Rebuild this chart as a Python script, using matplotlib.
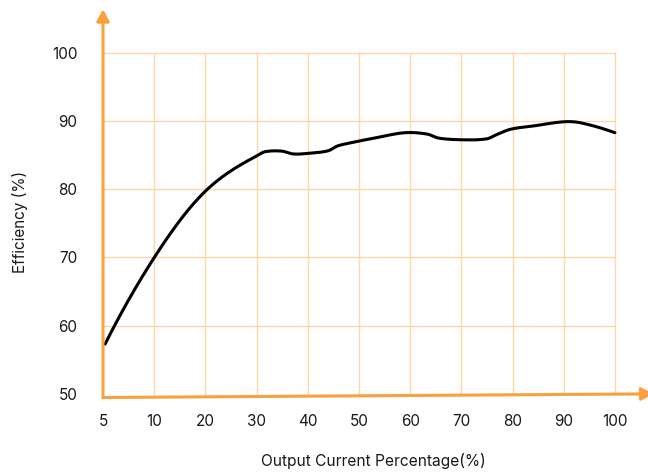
import numpy as np
import matplotlib
matplotlib.use('Agg')
import matplotlib.pyplot as plt

# ---- data ----
x_ticks = [5, 10, 20, 30, 40, 50, 60, 70, 80, 90, 100]
y_ticks = [50, 60, 70, 80, 90, 100]
curve_pct = [5.2, 10.1, 20.1, 25.5, 30, 31.6, 34.9, 37.2, 40.5, 44, 45.8,
             48.3, 53.6, 59, 63.3, 65.6, 70.8, 75, 76.7, 79.6, 84.2, 90, 93.3, 100]
curve_eff = [57.3, 70.1, 79.8, 82.95, 84.88, 85.5, 85.6, 85.18, 85.3,
             85.65, 86.35, 86.8, 87.6, 88.3, 88.1, 87.5, 87.25, 87.4, 87.95, 88.8,
             89.3, 89.9, 89.75, 88.3]
x_label = "Output Current Percentage(%)"
y_label = "Efficiency (%)"

plt.rcParams['font.family'] = ['Inter', 'DejaVu Sans']

W, H = 648, 473
fig = plt.figure(figsize=(W / 100, H / 100), dpi=100)
ax = fig.add_axes([103 / W, 1 - 397.5 / H, (640 - 103) / W, (397.5 - 10) / H])
ax.set_xlim(0, 10.49)
ax.set_ylim(49.47, 106.29)

positions = np.arange(len(x_ticks))
cx = np.interp(curve_pct, x_ticks, positions)
cy = np.array(curve_eff, dtype=float)


def spline_tangents(x, y, start_slope):
    k = len(x)
    h = np.diff(x)
    A = np.zeros((k, k)); b = np.zeros(k)
    A[0, 0] = 2 * h[0]; A[0, 1] = h[0]
    b[0] = 6 * ((y[1] - y[0]) / h[0] - start_slope)
    A[-1, -1] = 1
    for i in range(1, k - 1):
        A[i, i - 1] = h[i - 1]
        A[i, i] = 2 * (h[i - 1] + h[i])
        A[i, i + 1] = h[i]
        b[i] = 6 * ((y[i + 1] - y[i]) / h[i] - (y[i] - y[i - 1]) / h[i - 1])
    M = np.linalg.solve(A, b)
    t = np.zeros(k)
    for i in range(k - 1):
        t[i] = (y[i + 1] - y[i]) / h[i] - h[i] * (2 * M[i] + M[i + 1]) / 6
    t[-1] = (y[-1] - y[-2]) / h[-1] + h[-1] * (M[-2] + 2 * M[-1]) / 6
    return t


# cubic hermite smoothing: C2 spline tangents on the rising part, local tangents elsewhere
n = len(cx)
m = np.zeros(n)
for i in range(1, n - 1):
    m[i] = (cy[i + 1] - cy[i - 1]) / (cx[i + 1] - cx[i - 1])
m[-1] = 2 * (cy[-1] - cy[-2]) / (cx[-1] - cx[-2]) - m[-2]
k = 6
first_slope = 2 * (cy[1] - cy[0]) / (cx[1] - cx[0]) - (cy[2] - cy[0]) / (cx[2] - cx[0])
nt = spline_tangents(cx[:k], cy[:k], first_slope)
m[:k - 1] = nt[:k - 1]

sx, sy = [], []
for i in range(n - 1):
    h = cx[i + 1] - cx[i]
    t = np.linspace(0, 1, 40, endpoint=False)
    h00 = 2 * t**3 - 3 * t**2 + 1
    h10 = t**3 - 2 * t**2 + t
    h01 = -2 * t**3 + 3 * t**2
    h11 = t**3 - t**2
    sx.extend(cx[i] + t * h)
    sy.extend(h00 * cy[i] + h10 * h * m[i] + h01 * cy[i + 1] + h11 * h * m[i + 1])
sx.append(cx[-1]); sy.append(cy[-1])

grid_c = '#FDD7A9'
for yv in y_ticks[1:]:
    ax.plot([positions[0], positions[-1]], [yv, yv], color=grid_c, lw=1, zorder=1)
for xv in positions[1:]:
    ax.plot([xv, xv], [y_ticks[0], y_ticks[-1]], color=grid_c, lw=1, zorder=1)

ax.plot(sx, sy, color='black', lw=2.2, zorder=3, solid_capstyle='round')

axis_c = '#F9A13C'
arrow = dict(arrowstyle='-|>,head_length=0.7,head_width=0.38', mutation_scale=10,
             color=axis_c, lw=2.2, shrinkA=0, shrinkB=0)
ax.annotate('', xy=(0, 106.4), xytext=(0, 49.47), arrowprops=arrow,
            annotation_clip=False, zorder=4)
ax.annotate('', xy=(10.75, 50.0), xytext=(0, 49.47), arrowprops=arrow,
            annotation_clip=False, zorder=4)

for s in ax.spines.values():
    s.set_visible(False)
txt_c = '#1a1a1a'
ax.set_xticks(positions, [str(v) for v in x_ticks])
ax.set_yticks(y_ticks, [str(v) for v in y_ticks])
ax.tick_params(length=0, labelsize=11, colors=txt_c)
ax.tick_params(axis='y', pad=18.5)
ax.tick_params(axis='x', pad=12)

fig.text(373 / W, 1 - 461 / H, x_label, ha='center', va='center', fontsize=11.2, color=txt_c)
fig.text(20 / W, 1 - 222 / H, y_label, ha='center', va='center', rotation=90,
         fontsize=11, color=txt_c)

fig.savefig('out.png', dpi=100)
